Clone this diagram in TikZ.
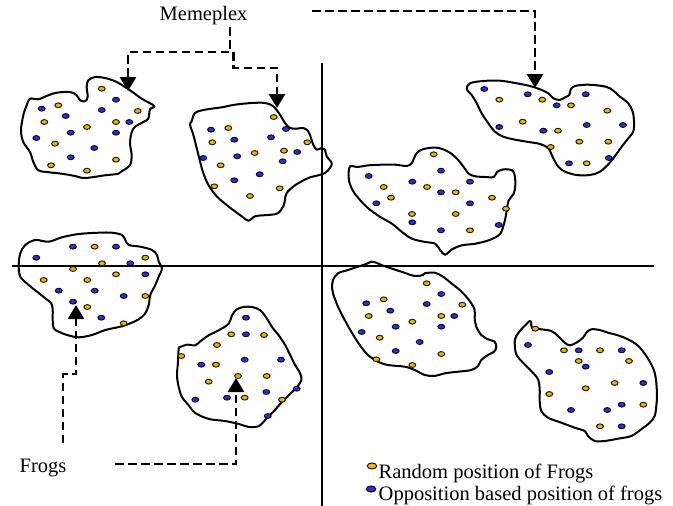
\documentclass[tikz,border=0pt]{standalone}
\usepackage{fontspec}
\setmainfont{Liberation Serif}
\usepackage{xcolor}
\usepackage{tikz}
\usetikzlibrary{arrows.meta}

\definecolor{frogyellow}{RGB}{232,182,28}
\definecolor{frogblue}{RGB}{48,48,205}

\begin{document}
\begin{tikzpicture}[x=1pt, y=-1pt,
        blob/.style={draw, line width=2pt, line join=round},
        axis/.style={line width=1.5pt},
        link/.style={line width=2.6pt, dash pattern=on 8.5pt off 4.5pt,
                     -{Triangle[width=16pt,length=14pt]}},
        ydot/.style={draw=black!85!frogyellow, line width=1pt, fill=frogyellow},
        bdot/.style={draw=black!85!frogblue, line width=1pt, fill=frogblue},
        lbl/.style={font=\fontsize{20.5}{24}\selectfont, inner sep=1.5pt, anchor=base west}
    ]
    \useasboundingbox (0,0) rectangle (673,506);

    % quadrant axes
    \draw[axis] (322,63) -- (322,506);
    \draw[axis] (12,266) -- (654,266);

    % memeplexes, upper left
    \draw[blob] plot[smooth cycle, tension=0.55] coordinates {
        (30,98.7) (38.3,99.3) (48.3,95.3) (56.7,92.7) (70,92) (76.7,95.3) (80,100.3)
        (85,101.3) (87.7,97) (86.7,87) (88.3,80.3) (95,77) (105,78) (116.7,82)
        (130,90.3) (141.7,98.7) (154.3,106) (150,109.3) (148.3,118.7) (143.3,122)
        (133.3,128.7) (130,142) (131.7,155.3) (130,165.3) (123.3,170.3) (118.3,173.7)
        (105,175.3) (85,178) (75,176) (61.7,173.7) (46.7,172) (38.3,170.3) (33.3,162)
        (30,152) (23.3,142) (21,130.3) (23.3,115.3) (26.7,105.3)};
    \draw[blob] plot[smooth cycle, tension=0.55] coordinates {
        (191.7,121.3) (195,113) (205,109.7) (221.7,107.3) (235,104.7) (251.7,103)
        (265,103) (273.3,106.3) (280,114.7) (285,123) (290,128) (296.7,128.7)
        (303.3,128) (308.3,131.3) (311,138) (313.3,144.7) (316.7,149.7) (321.7,148)
        (325,149.7) (326.7,156.3) (331.7,163) (330,168) (325,173) (318.3,175.3)
        (308.3,178) (295,185.3) (286.7,193) (285,199.7) (283.3,206.3) (278.3,213)
        (271.7,214.7) (263.3,215.3) (255,216.3) (248.3,220.7) (241.7,216.3)
        (228.3,206.3) (216.7,196.3) (208.3,184.7) (203.3,173) (200,161.3)
        (196.7,148) (193.3,134.7) (190,124.7)};

    % memeplexes, upper right
    \draw[blob] plot[smooth cycle, tension=0.55] coordinates {
        (466.7,89.3) (470,83.3) (483.3,81) (500,80.7) (516.7,83.3) (530,86) (540,89.3)
        (548.3,93.3) (553.3,98.3) (560,100) (565,97.3) (569.3,95) (570.7,89.3) (575,86)
        (586.7,84.7) (600,85.7) (610,88.3) (620,96.7) (628.3,103.3) (632.7,111.7)
        (634,121.7) (633.3,131.7) (628.3,138.3) (621.7,146.7) (615,156) (609.3,163.3)
        (600,171.7) (590,175) (576.7,175) (565,171.7) (558.3,166.7) (553.3,158.3)
        (548.3,148.3) (540,144) (526.7,141.7) (513.3,139.3) (503.3,136.7) (495,131.7)
        (488.3,123.3) (481.7,113.3) (476.7,103.3) (471.7,95)};
    \draw[blob] plot[smooth cycle, tension=0.55] coordinates {
        (350.3,166) (357,167) (368.7,165.3) (382,164.7) (395.3,164.7) (407,166)
        (412,162.7) (415.3,155.3) (420.3,150.3) (428.7,148) (438.7,148) (448.7,152)
        (457,158.7) (463.7,167) (468.7,173.7) (475.3,176.3) (485.3,177) (493.7,177)
        (497,172) (503.7,169.3) (512,170.3) (514.7,175.3) (515.3,185.3) (513.7,193.7)
        (508.7,200.3) (507,208.7) (505.3,218.7) (502,230.3) (498.7,235.3) (488.7,240.3)
        (475.3,243.7) (462,245.3) (452,249.3) (445.3,254.7) (440.3,250.3) (435.3,243.7)
        (425.3,242) (412,238.7) (402,232) (392,223.7) (380.3,217) (368.7,208.7)
        (360.3,200.3) (353.7,192) (349.3,182) (348.7,172)};

    % memeplexes, lower left
    \draw[blob] plot[smooth cycle, tension=0.55] coordinates {
        (18.7,265) (20.3,253.3) (25.3,245) (35.3,240) (48.7,241.7) (62,237.3)
        (78.7,234) (98.7,232.7) (112,232.7) (122,235) (125.3,240) (128.7,245)
        (140.3,246.7) (152,250) (157,255) (158.7,261.7) (162,268.3) (158.7,276.7)
        (155.3,285) (150.3,295) (148.7,305) (145.3,313.3) (138.7,319.3) (130.3,323.3)
        (120.3,326.7) (105.3,330) (92,335) (78.7,337.3) (67,335) (58.7,331.7)
        (53.7,328.3) (52.7,320) (52.7,310) (51.3,303.3) (45.3,298.3) (37,291.7)
        (28.7,285) (20.3,276.7)};
    \draw[blob] plot[smooth cycle, tension=0.55] coordinates {
        (178.7,348.7) (180.3,347) (187,344.7) (195.3,345.3) (200.3,341.3) (208.7,335.3)
        (218.7,330.3) (228.7,323.7) (232,315.3) (237,309.3) (243.7,307) (252,307)
        (260.3,310.3) (267,318.7) (272,327) (278.7,335.3) (285.3,345.3) (290.3,355.3)
        (295.3,365.3) (300.3,373.7) (301.3,380.3) (297,387) (290.3,393.7) (282,402)
        (274,411) (266,419) (259,426) (249,427) (239,424) (225,421) (209,419)
        (195.3,413) (188.7,405.3) (182,397) (178.7,387) (177,375.3) (178,362)};

    % memeplexes, lower right
    \draw[blob] plot[smooth cycle, tension=0.55] coordinates {
        (333,280) (338,273.3) (348,270) (358,266.7) (366.3,264) (371.3,261.7)
        (376.3,262.7) (381.3,265) (388,267.3) (401.3,271.7) (414.7,276) (423,275)
        (424.7,273.3) (434.7,272.7) (443,276.7) (451.3,283.3) (459.7,290) (466.3,296.7)
        (471.3,303.3) (474.7,310) (474.7,318.3) (476.3,326.7) (481.3,335) (488,339.3)
        (494.7,341.7) (496.3,347.3) (494,351.7) (488,355) (481.3,360) (478,366)
        (471.3,370) (458,371.7) (444.7,373.3) (434.7,376) (424.7,375) (414.7,370)
        (404.7,366.7) (388,365) (378,361.7) (368,355) (359.7,345) (351.3,331.7)
        (344.7,320) (338,306.7) (333,293.3) (332,285)};
    \draw[blob] plot[smooth cycle, tension=0.55] coordinates {
        (514.7,342.7) (516.3,336) (521.3,329.3) (526.3,324.3) (529.7,321) (531.3,322.7)
        (532,327.7) (541.3,329.3) (551.3,331) (558,336) (564.7,342.7) (569.7,345.3)
        (576.3,342.7) (583,337.7) (586.3,332.7) (591.3,329.3) (599.7,330) (608,332.7)
        (618,335.3) (628,339.3) (636.3,344.3) (641.3,349.3) (646.3,356) (651.3,364.3)
        (654.7,372.7) (656.3,382.7) (657,396) (656.3,406) (654.7,416) (649.7,422.7)
        (641.3,429.3) (631.3,436) (618,438.7) (604.7,441) (594.7,441) (588,436)
        (584.7,431) (574.7,427.7) (561.3,422.7) (548,417.7) (541.3,411) (539.7,401)
        (539.7,389.3) (538,379.3) (531.3,371) (523,362.7) (516.3,354.3)};

    % frogs at random positions
    \foreach \x/\y in {
        101.7/88.7, 58.3/105.3, 137.7/111, 44.3/122, 116/122, 87/127, 55/143.7,
        116/159.7, 51/165.3, 87/170.7,
        273.7/117, 228.3/128, 212.3/142.3, 307.3/142.3, 254.7/153, 284/150.7,
        220.7/165.3, 214.3/186.3, 279.7/188.3, 250/196,
        499.3/99.7, 542.3/99.7, 571/105.3, 607.3/110.7, 522.7/121.7, 558/130.7,
        579.3/141.7, 608.3/141.7, 550.7/147, 586.7/163.3,
        433.7/154.3, 383.7/187, 391/197.7, 427/187, 455.7/192.3, 492/197.7,
        506/208.7, 412/214, 455.7/214, 470/230.3,
        94.7/246.7, 145.3/257.7, 102/263.3, 73/269, 116/274.3, 43.7/280, 87.3/280,
        145.3/296, 87.3/307, 123.7/323.3,
        231.3/334.3, 264/335, 217/345, 181.3/356, 216/364.7, 238/376, 266.7/376,
        208.7/381.7, 244.7/397.7, 282/399.7,
        426.7/283.3, 383.7/299.3, 462.3/304.7, 368.7/316, 441.3/316, 412.3/321.7,
        379.7/337.7, 441.3/354, 376.3/359.3, 412.3/365,
        535.3/328.7, 564/350.3, 600/350.3, 578.7/361, 629/361, 614.7/383,
        585.7/388.3, 549.3/394, 643.3/404.7, 600/426.3}
        \draw[ydot] (\x,\y) ellipse [x radius=3.4, y radius=2.4];

    % frogs at opposition based positions
    \foreach \x/\y in {
        116/99.7, 41.7/108.7, 65.7/116, 101.7/110, 129.3/122, 70.7/132.7, 116/132.7,
        36.3/138, 94.3/148, 70.7/157.3,
        211/129.7, 234.3/139.7, 271/137.3, 286/129, 203.3/158, 237.3/156.3,
        297.3/152, 282.7/161.3, 259.7/174.3, 234.3/180.3,
        484.3/89, 527.7/94.3, 556.7/105.3, 585.7/94.3, 499.3/127, 543.3/130.7,
        586.7/125, 623/125, 569/163.3, 608.7/158,
        368.7/176, 441/170.7, 412.3/181.7, 470/181.7, 441/192.3, 376.3/203.3,
        470/203.3, 412.3/222.3, 441/230.3, 498.7/225,
        73/246.7, 116/246.7, 36.3/257.7, 130.3/263.3, 145.3/274.3, 58.7/290.7,
        94.7/290.7, 123.7/296, 73/301.7, 101.3/317.7,
        246/317.7, 246/334.3, 201.3/364.7, 244.7/359.7, 281/359.7, 296.7/388.7,
        266.3/392, 195.3/399.7, 227/397.7, 267.7/416,
        441.3/294, 366.3/303.3, 426.7/304, 390.3/310.7, 454.3/316, 395.7/326.7,
        441.3/326.7, 361.7/332, 419.7/342, 395.7/351,
        528/345, 578.7/350.3, 621.7/350.3, 585.7/366.7, 549.3/372, 643.3/383,
        621.7/404.7, 571/410, 607.3/410, 621.7/426.3}
        \draw[bdot] (\x,\y) ellipse [x radius=3.4, y radius=2.4];

    % labels
    \node[lbl] (memeplex) at (158,20) {Memeplex};
    \node[lbl] (frogs)    at (18,472) {Frogs};
    \node[lbl] (random)   at (377,478) {Random position of Frogs};
    \node[lbl] (opposite) at (377,500.5) {Opposition based position of frogs};
    \draw[ydot] (372,466) ellipse [x radius=4.8, y radius=3];
    \draw[bdot] (371,489) ellipse [x radius=4.8, y radius=3];

    % arrow ends and starting points
    \coordinate (tipA) at (128,91);
    \coordinate (tipB) at (277,108);
    \coordinate (tipC) at (535,88);
    \coordinate (tipD) at (76,305);
    \coordinate (tipE) at (236,378);
    \coordinate (mA) at (230,27);
    \coordinate (mB) at (312,11);
    \coordinate (fA) at (63,443);
    \coordinate (fB) at (115,464);

    \draw[link] (mA) -- ++(0,25) -| (tipA);
    \draw[link] (mA) ++(3.5,25) -- ++(0,16) -| (tipB);
    \draw[link] (mB) -| (tipC);
    \draw[link] (fA) -- ++(0,-69) -| (tipD);
    \draw[link] (fB) -| (tipE);
\end{tikzpicture}
\end{document}
